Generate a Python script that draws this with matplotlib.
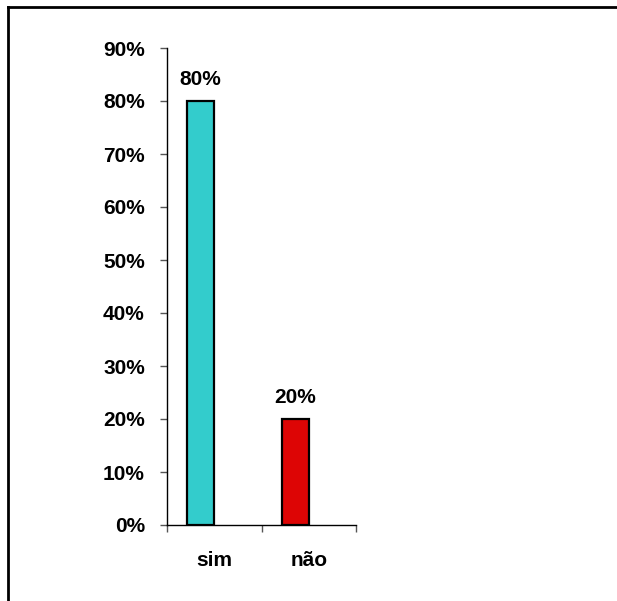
import matplotlib
matplotlib.use("Agg")
import matplotlib.pyplot as plt
from matplotlib.lines import Line2D
import numpy as np

categories = ["sim", "não"]
values = [80, 20]
bar_colors = ["#33CCCC", "#DD0505"]
y_ticks = [0, 10, 20, 30, 40, 50, 60, 70, 80, 90]

plt.rcParams["font.family"] = ["Liberation Sans", "DejaVu Sans"]
FS = 15

fig = plt.figure(figsize=(6.17, 6.01), dpi=100)
ax = fig.add_axes([167 / 617, 1 - 525 / 601, (356 - 167) / 617, (525 - 48) / 601])

x = np.arange(len(categories))
shift = 0.145
bars = ax.bar(x - shift, values, width=0.285, color=bar_colors,
              edgecolor="black", linewidth=1.6, zorder=3)

for rect, v in zip(bars, values):
    ax.text(rect.get_x() + rect.get_width() / 2, v + 2.35, f"{v}%",
            ha="center", va="bottom", fontsize=FS, fontweight="bold")

ax.set_xlim(-0.5, len(categories) - 0.5)
ax.set_ylim(0, 90)
ax.set_yticks(y_ticks)
ax.set_yticklabels([f"{t}%" for t in y_ticks], fontsize=FS, fontweight="bold")

ax.set_xticks(x)
ax.set_xticklabels(categories, fontsize=FS, fontweight="bold")
ax.tick_params(axis="x", length=0, pad=19)
# category separators on the x axis
ax.set_xticks(np.arange(len(categories) + 1) - 0.5, minor=True)
ax.tick_params(axis="x", which="minor", length=5, color="#555555", width=1)
ax.tick_params(axis="y", length=5, color="#555555", width=1, pad=11)

for side in ["top", "right"]:
    ax.spines[side].set_visible(False)
for side in ["left", "bottom"]:
    ax.spines[side].set_linewidth(1.0)

# frame lines along the top and left of the figure
fig.add_artist(Line2D([8 / 617, 1.0], [1 - 6.5 / 601, 1 - 6.5 / 601],
                      transform=fig.transFigure, color="black", linewidth=2))
fig.add_artist(Line2D([8 / 617, 8 / 617], [0, 1 - 6.5 / 601],
                      transform=fig.transFigure, color="black", linewidth=2))

fig.savefig("out.png", dpi=100)
